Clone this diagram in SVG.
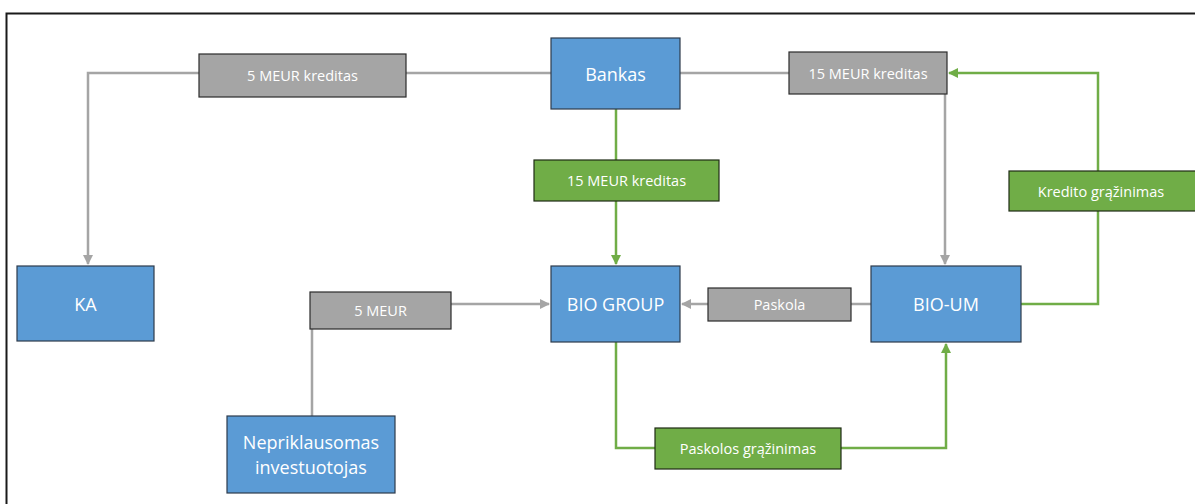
<svg xmlns="http://www.w3.org/2000/svg" width="1195" height="504" viewBox="0 0 1195 504">
  <defs>
    <marker id="arrGrey" markerWidth="10" markerHeight="10" viewBox="0 0 10 10" refX="9" refY="5" orient="auto" markerUnits="userSpaceOnUse">
      <path d="M0,0 L10,5 L0,10 Z" fill="#A5A5A5"/>
    </marker>
    <marker id="arrGreen" markerWidth="10" markerHeight="10" viewBox="0 0 10 10" refX="9" refY="5" orient="auto" markerUnits="userSpaceOnUse">
      <path d="M0,0 L10,5 L0,10 Z" fill="#70AD47"/>
    </marker>
    <style>
      .node { fill: #5B9BD5; stroke: #2E3B4C; stroke-width: 1.2; }
      .lblG { fill: #A5A5A5; stroke: #2B2B2B; stroke-width: 1.2; }
      .lblV { fill: #70AD47; stroke: #1E2B14; stroke-width: 1.2; }
      .big { font-family: "Open Sans", "Liberation Sans", sans-serif; font-size: 18px; fill: #FFFFFF; text-anchor: middle; dominant-baseline: central; }
      .small { font-family: "Open Sans", "Liberation Sans", sans-serif; font-size: 14.5px; fill: #FFFFFF; text-anchor: middle; dominant-baseline: central; }
      .grey { fill: none; stroke: #A5A5A5; stroke-width: 2.5; }
      .green { fill: none; stroke: #70AD47; stroke-width: 2.5; }
    </style>
  </defs>

  <rect x="0" y="0" width="1195" height="504" fill="#FFFFFF"/>
  <!-- outer frame -->
  <path d="M6.5,504 L6.5,13.5 L1195,13.5" fill="none" stroke="#1A1A1A" stroke-width="2"/>

  <!-- connectors -->
  <g id="connectors">
    <path class="grey" d="M551,73 L88,73 L88,264" marker-end="url(#arrGrey)"/>
    <path class="grey" d="M680,73 L945,73 L945,264" marker-end="url(#arrGrey)"/>
    <path class="green" d="M616,109 L616,264" marker-end="url(#arrGreen)"/>
    <path class="green" d="M1021,304 L1098,304 L1098,73 L949,73" marker-end="url(#arrGreen)"/>
    <path class="grey" d="M871,304 L682,304" marker-end="url(#arrGrey)"/>
    <path class="grey" d="M312,416 L312,304 L549,304" marker-end="url(#arrGrey)"/>
    <path class="green" d="M616,342 L616,448 L946,448 L946,344" marker-end="url(#arrGreen)"/>
  </g>

  <!-- connector labels -->
  <g id="label-5meur-kreditas">
    <rect class="lblG" x="199" y="54" width="207" height="43"/>
    <text class="small" x="302.5" y="75.5">5 MEUR kreditas</text>
  </g>
  <g id="label-15meur-kreditas-grey">
    <rect class="lblG" x="789" y="52" width="158" height="42"/>
    <text class="small" x="868" y="73">15 MEUR kreditas</text>
  </g>
  <g id="label-15meur-kreditas-green">
    <rect class="lblV" x="534" y="160" width="185" height="41"/>
    <text class="small" x="626.5" y="180.5">15 MEUR kreditas</text>
  </g>
  <g id="label-kredito-grazinimas">
    <rect class="lblV" x="1009" y="171" width="190" height="40"/>
    <text class="small" x="1101" y="191">Kredito grąžinimas</text>
  </g>
  <g id="label-5meur">
    <rect class="lblG" x="310" y="292" width="141" height="37"/>
    <text class="small" x="380.5" y="310.5">5 MEUR</text>
  </g>
  <g id="label-paskola">
    <rect class="lblG" x="708" y="288" width="143" height="33"/>
    <text class="small" x="779.5" y="304.5">Paskola</text>
  </g>
  <g id="label-paskolos-grazinimas">
    <rect class="lblV" x="655" y="428" width="186" height="41"/>
    <text class="small" x="748" y="448.5">Paskolos grąžinimas</text>
  </g>

  <!-- nodes -->
  <g id="node-bankas">
    <rect class="node" x="551" y="38" width="129" height="71"/>
    <text class="big" x="615.5" y="73.5">Bankas</text>
  </g>
  <g id="node-ka">
    <rect class="node" x="17" y="266" width="137" height="75"/>
    <text class="big" x="85.5" y="303.5">KA</text>
  </g>
  <g id="node-bio-group">
    <rect class="node" x="551" y="266" width="129" height="76"/>
    <text class="big" x="615.5" y="303.5">BIO GROUP</text>
  </g>
  <g id="node-bio-um">
    <rect class="node" x="871" y="266" width="150" height="76"/>
    <text class="big" x="946" y="303.5">BIO-UM</text>
  </g>
  <g id="node-nepriklausomas">
    <rect class="node" x="227" y="416" width="168" height="77"/>
    <text class="big" x="311" y="442">Nepriklausomas</text>
    <text class="big" x="311" y="467">investuotojas</text>
  </g>
</svg>
